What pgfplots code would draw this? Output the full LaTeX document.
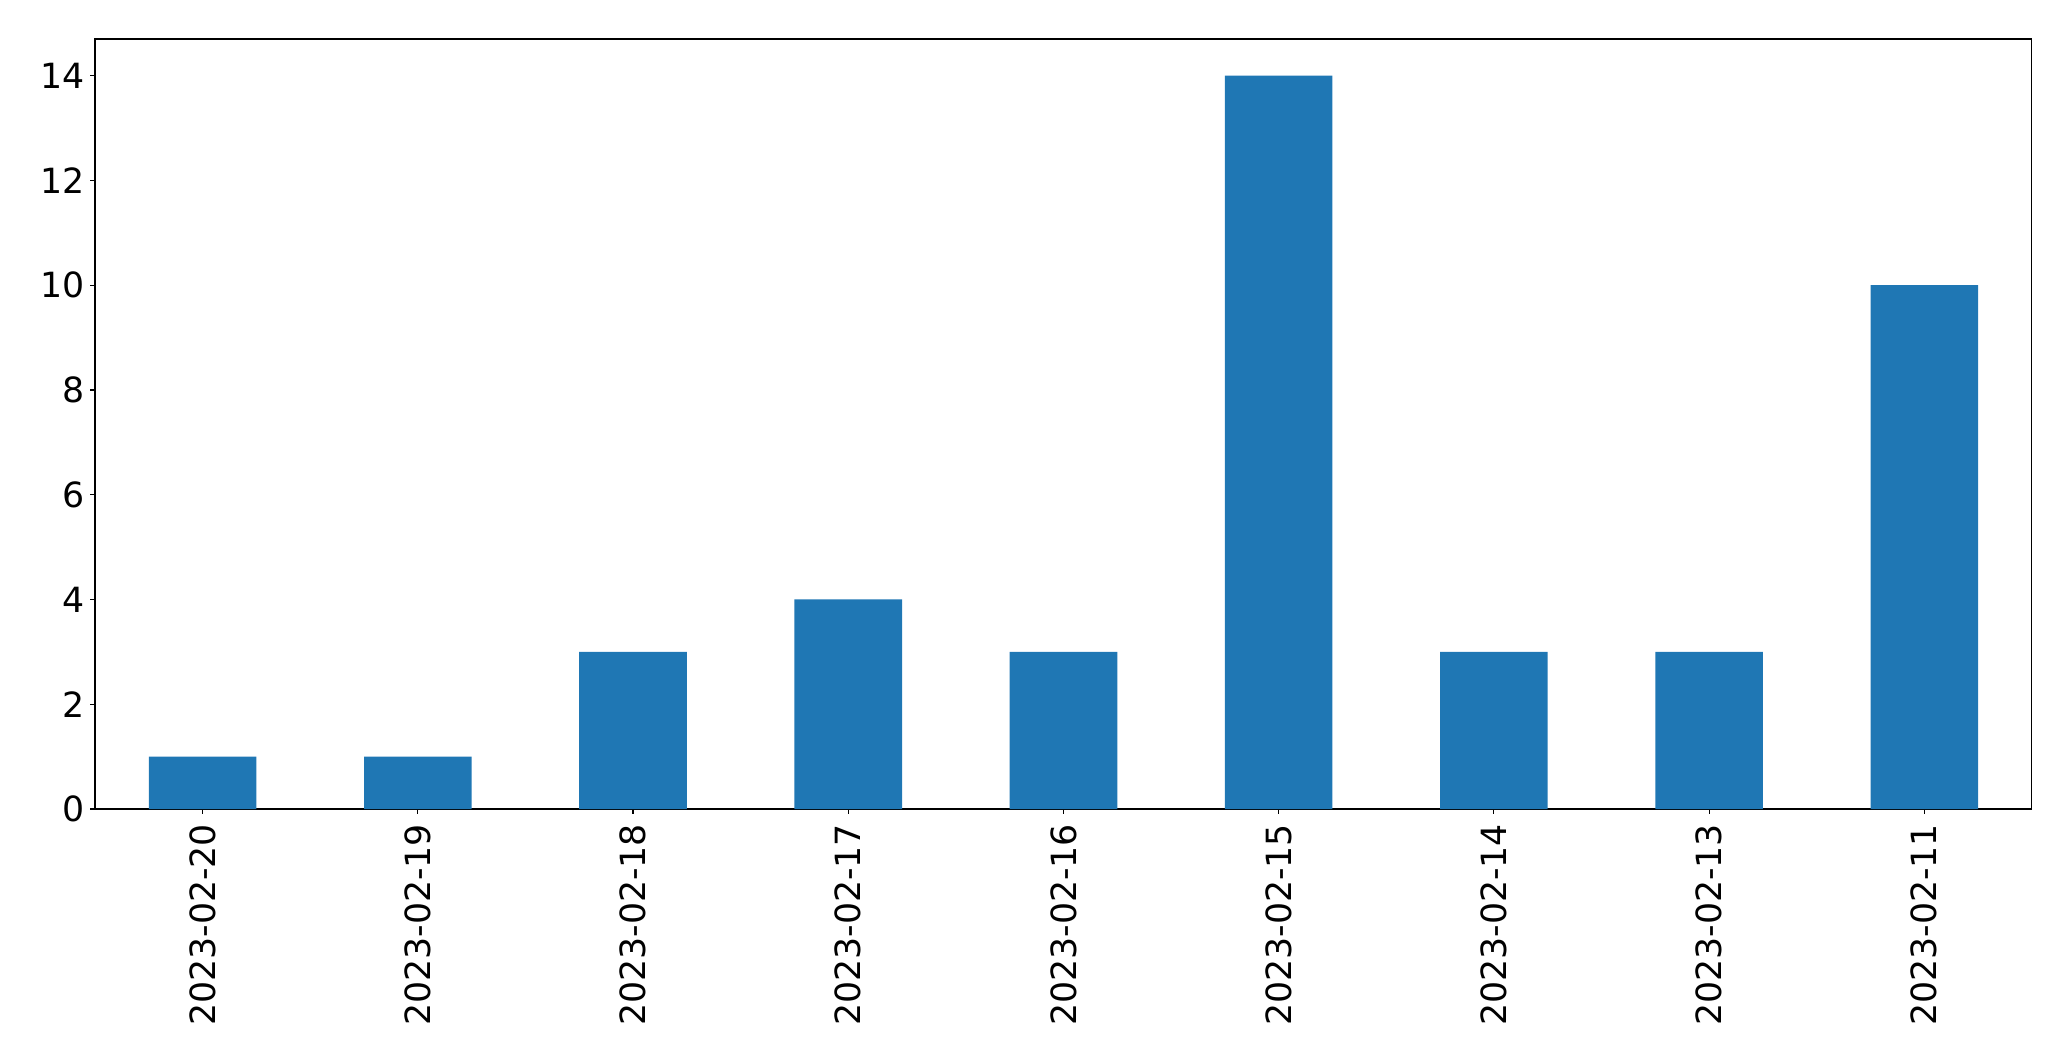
\documentclass[border=0pt]{standalone}
\usepackage{pgfplots}
\pgfplotsset{compat=1.18}
\usepackage{fontspec}
\setmainfont{DejaVu Sans}
\definecolor{mplblue}{HTML}{1F77B4}
\begin{document}
\begin{tikzpicture}
\useasboundingbox (0,0) rectangle (1491.12pt,763.92pt);
\begin{axis}[
  at={(68.4pt,181.44pt)}, anchor=south west,
  scale only axis, width=1394.64pt, height=554.4pt,
  xmin=-0.5, xmax=8.5, ymin=0, ymax=14.7,
  ybar, bar width=0.5,
  xtick={0,1,2,3,4,5,6,7,8},
  xticklabels={2023-02-20,2023-02-19,2023-02-18,2023-02-17,2023-02-16,2023-02-15,2023-02-14,2023-02-13,2023-02-11},
  ytick={0,2,4,6,8,10,12,14},
  xtick pos=left, ytick pos=left,
  tick align=outside,
  major tick length=3.5pt,
  every tick/.style={black, line width=0.8pt},
  axis line style={line width=0.8pt},
  ticklabel style={font=\fontsize{25}{29}\selectfont},
  /pgf/number format/assume math mode=true,
  yticklabel style={anchor=east, inner sep=0pt, xshift=-3.5pt},
  xticklabel style={rotate=90, anchor=east, inner xsep=7pt, inner ysep=0pt},
]
\addplot[fill=mplblue, draw=none] coordinates {
(0,1) (1,1) (2,3) (3,4) (4,3) (5,14) (6,3) (7,3) (8,10)
};
\end{axis}
\end{tikzpicture}
\end{document}
